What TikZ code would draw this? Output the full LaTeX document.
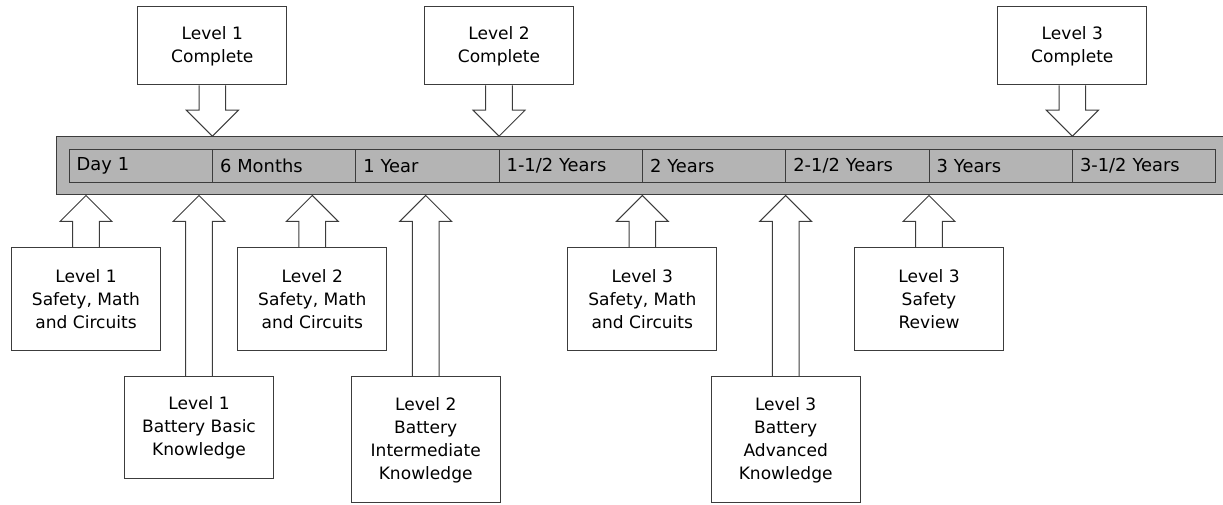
\documentclass[tikz,border=0pt]{standalone}
\usepackage{fontspec}
\setmainfont{DejaVu Sans}
\usetikzlibrary{positioning,calc}

\definecolor{linegray}{RGB}{60,60,60}
\definecolor{barfill}{RGB}{180,180,180}

\tikzset{
    outline/.style={draw=linegray, line width=0.75pt},
    stepbox/.style={outline, fill=white, minimum width=111.75pt, align=center,
        font=\fontsize{12.8}{17.25}\selectfont},
    bar/.style={outline, fill=barfill, minimum width=880pt, minimum height=43.7pt},
    cell/.style={outline, fill=barfill, minimum width=107.5pt, minimum height=24.75pt,
        text width=96pt, inner xsep=5.75pt, outer sep=0pt, align=left,
        font=\fontsize{13.4}{16}\selectfont}
}

\newcommand{\downblock}[2]{%
    \draw[outline] ($(#1.south)+(-10pt,0)$) -- ($(#2)+(-10pt,19.5pt)$) -- ($(#2)+(-19.5pt,19.5pt)$)
        -- (#2) -- ($(#2)+(19.5pt,19.5pt)$) -- ($(#2)+(10pt,19.5pt)$) -- ($(#1.south)+(10pt,0)$);}
\newcommand{\upblock}[2]{%
    \draw[outline] ($(#1.north)+(-10pt,0)$) -- ($(#2)+(-10pt,-19.5pt)$) -- ($(#2)+(-19.5pt,-19.5pt)$)
        -- (#2) -- ($(#2)+(19.5pt,-19.5pt)$) -- ($(#2)+(10pt,-19.5pt)$) -- ($(#1.north)+(10pt,0)$);}

\begin{document}
\begin{tikzpicture}[x=0.75pt, y=0.75pt]
            \useasboundingbox (0,0) rectangle (1223,504);

            %timeline
            \node[bar] (bar) at (643.35,338.15) {};

            \node[cell] (c1) at (140.67,338) {Day 1};
            \node[cell, right=0pt of c1] (c2) {6 Months};
            \node[cell, right=0pt of c2] (c3) {1 Year};
            \node[cell, right=0pt of c3] (c4) {1-1/2 Years};
            \node[cell, right=0pt of c4] (c5) {2 Years};
            \node[cell, right=0pt of c5] (c6) {2-1/2 Years};
            \node[cell, right=0pt of c6] (c7) {3 Years};
            \node[cell, right=0pt of c7] (c8) {3-1/2 Years};

            %levels complete
            \node[stepbox, minimum height=58.7pt] (done1) at (c1.east |- 0,458.15) {Level 1\\Complete};

            \node[stepbox, minimum height=58.7pt] (done2) at (c3.east |- 0,458.15) {Level 2\\Complete};

            \node[stepbox, minimum height=58.7pt] (done3) at (c7.east |- 0,458.15) {Level 3\\Complete};

            %courses
            \node[stepbox, minimum height=77.5pt] (safe1) at (86,205) {Level 1\\Safety, Math\\and Circuits};

            \node[stepbox, minimum height=76pt] (batt1) at (199,76.65) {Level 1\\Battery Basic\\Knowledge};

            \node[stepbox, minimum height=77.5pt] (safe2) at (312.3,205) {Level 2\\Safety, Math\\and Circuits};

            \node[stepbox, minimum height=94.7pt] (batt2) at (425.7,64.15) {Level 2\\Battery\\Intermediate\\Knowledge};

            \node[stepbox, minimum height=77.5pt] (safe3) at (c4.east |- 0,205) {Level 3\\Safety, Math\\and Circuits};

            \node[stepbox, minimum height=94.7pt] (batt3) at (c5.east |- 0,64.15) {Level 3\\Battery\\Advanced\\Knowledge};

            \node[stepbox, minimum height=77.5pt] (review3) at (c6.east |- 0,205) {Level 3\\Safety\\Review};

            %arrow tips on the bar
            \coordinate (t1) at (bar.north -| done1);
            \coordinate (t2) at (bar.north -| done2);
            \coordinate (t3) at (bar.north -| done3);

            \coordinate (s1) at (bar.south -| safe1);
            \coordinate (s2) at (bar.south -| batt1);
            \coordinate (s3) at (bar.south -| safe2);
            \coordinate (s4) at (bar.south -| batt2);
            \coordinate (s5) at (bar.south -| safe3);
            \coordinate (s6) at (bar.south -| batt3);
            \coordinate (s7) at (bar.south -| review3);

            %arrows
            \downblock{done1}{t1}
            \downblock{done2}{t2}
            \downblock{done3}{t3}

            \upblock{safe1}{s1}
            \upblock{batt1}{s2}
            \upblock{safe2}{s3}
            \upblock{batt2}{s4}
            \upblock{safe3}{s5}
            \upblock{batt3}{s6}
            \upblock{review3}{s7}
\end{tikzpicture}
\end{document}
